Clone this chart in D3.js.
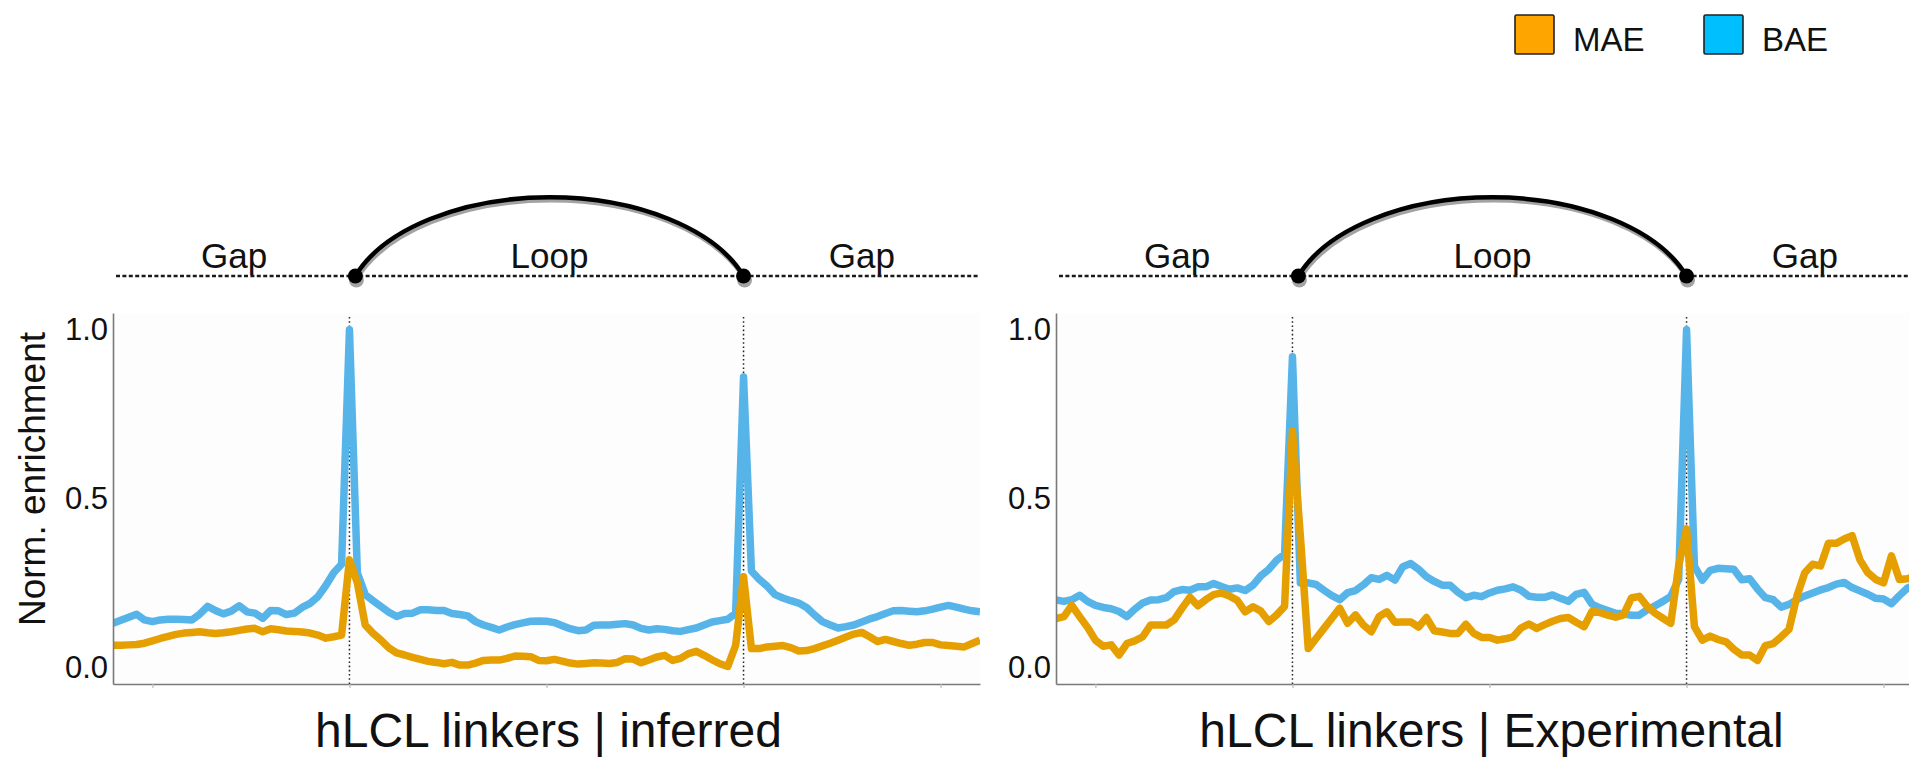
<!DOCTYPE html>
<html>
<head>
<meta charset="utf-8">
<script src="https://cdn.jsdelivr.net/npm/d3@7"></script>
<style>
  html, body { margin: 0; padding: 0; background: #fff; }
  svg { display: block; font-family: "Liberation Sans", Arial, Helvetica, sans-serif; }
</style>
</head>
<body>
<svg id="chart" width="1909" height="761"></svg>
<script>
// Bin positions along the linker, in loop units (0 and 1 are the two anchors).
const binCount = 111;
const positions = d3.range(binCount).map(i => -0.6 + i * 0.02);

const xTicks = [-0.5, 0, 0.5, 1, 1.5];
const anchors = [0, 1];
const yTicks = [0, 0.5, 1];

const seriesNames = ["MAE", "BAE"];
const panelTitles = ["hLCL linkers | inferred", "hLCL linkers | Experimental"];
const segmentLabels = ["Gap", "Loop", "Gap"];

// Normalised enrichment, inferred linkers
const inferredMAE = [
  0.065, 0.065, 0.066, 0.067, 0.071, 0.078, 0.085, 0.091, 0.097, 0.101,
  0.103, 0.105, 0.102, 0.100, 0.102, 0.105, 0.109, 0.113, 0.115, 0.105,
  0.114, 0.111, 0.107, 0.106, 0.104, 0.101, 0.095, 0.086, 0.090, 0.095,
  0.318, 0.250, 0.125, 0.100, 0.080, 0.057, 0.042, 0.036, 0.029, 0.023,
  0.017, 0.014, 0.010, 0.014, 0.006, 0.006, 0.012, 0.020, 0.021, 0.021,
  0.026, 0.033, 0.032, 0.031, 0.020, 0.019, 0.023, 0.018, 0.012, 0.009,
  0.011, 0.013, 0.012, 0.011, 0.014, 0.025, 0.024, 0.013, 0.021, 0.030,
  0.035, 0.020, 0.026, 0.040, 0.047, 0.035, 0.022, 0.010, 0.002, 0.065,
  0.268, 0.055, 0.055, 0.060, 0.062, 0.064, 0.058, 0.048, 0.049, 0.055,
  0.063, 0.071, 0.080, 0.089, 0.098, 0.103, 0.090, 0.076, 0.082, 0.076,
  0.070, 0.065, 0.068, 0.073, 0.073, 0.066, 0.064, 0.062, 0.060, 0.070,
  0.080
];
const inferredBAE = [
  0.130, 0.139, 0.148, 0.157, 0.140, 0.135, 0.140, 0.142, 0.142, 0.141,
  0.140, 0.157, 0.180, 0.168, 0.158, 0.166, 0.182, 0.164, 0.160, 0.145,
  0.168, 0.167, 0.156, 0.160, 0.177, 0.189, 0.209, 0.242, 0.280, 0.305,
  1.000, 0.280, 0.215, 0.197, 0.180, 0.163, 0.150, 0.159, 0.160, 0.170,
  0.170, 0.168, 0.168, 0.159, 0.156, 0.152, 0.135, 0.125, 0.118, 0.110,
  0.119, 0.126, 0.131, 0.136, 0.137, 0.136, 0.132, 0.123, 0.114, 0.108,
  0.110, 0.124, 0.125, 0.125, 0.127, 0.129, 0.125, 0.115, 0.110, 0.114,
  0.112, 0.108, 0.106, 0.111, 0.116, 0.125, 0.134, 0.138, 0.142, 0.160,
  0.860, 0.285, 0.260, 0.240, 0.215, 0.205, 0.197, 0.190, 0.177, 0.155,
  0.135, 0.125, 0.116, 0.120, 0.125, 0.134, 0.143, 0.150, 0.159, 0.167,
  0.168, 0.166, 0.164, 0.167, 0.172, 0.178, 0.183, 0.178, 0.172, 0.167,
  0.164
];

// Normalised enrichment, experimental linkers
const experimentalMAE = [
  0.144, 0.150, 0.183, 0.150, 0.118, 0.080, 0.062, 0.066, 0.036, 0.070,
  0.078, 0.090, 0.125, 0.125, 0.125, 0.140, 0.175, 0.207, 0.182, 0.200,
  0.215, 0.220, 0.211, 0.198, 0.164, 0.179, 0.166, 0.135, 0.155, 0.180,
  0.700, 0.390, 0.055, 0.085, 0.115, 0.145, 0.175, 0.130, 0.155, 0.125,
  0.105, 0.150, 0.164, 0.133, 0.134, 0.134, 0.119, 0.147, 0.108, 0.104,
  0.100, 0.100, 0.127, 0.100, 0.088, 0.088, 0.080, 0.084, 0.090, 0.116,
  0.128, 0.115, 0.126, 0.136, 0.144, 0.147, 0.133, 0.120, 0.165, 0.162,
  0.154, 0.148, 0.155, 0.205, 0.210, 0.180, 0.160, 0.145, 0.130, 0.300,
  0.410, 0.120, 0.080, 0.092, 0.082, 0.075, 0.053, 0.036, 0.036, 0.020,
  0.064, 0.070, 0.090, 0.112, 0.210, 0.280, 0.305, 0.300, 0.367, 0.367,
  0.380, 0.390, 0.318, 0.280, 0.260, 0.250, 0.330, 0.260, 0.262, 0.270,
  0.270
];
const experimentalBAE = [
  0.199, 0.195, 0.200, 0.213, 0.195, 0.183, 0.177, 0.173, 0.165, 0.150,
  0.172, 0.190, 0.199, 0.200, 0.206, 0.224, 0.230, 0.228, 0.238, 0.238,
  0.248, 0.239, 0.231, 0.235, 0.227, 0.243, 0.271, 0.290, 0.317, 0.335,
  0.920, 0.250, 0.250, 0.245, 0.228, 0.212, 0.200, 0.221, 0.227, 0.244,
  0.265, 0.260, 0.272, 0.258, 0.298, 0.307, 0.290, 0.268, 0.254, 0.243,
  0.243, 0.222, 0.206, 0.213, 0.209, 0.220, 0.228, 0.232, 0.238, 0.228,
  0.210, 0.207, 0.207, 0.214, 0.204, 0.195, 0.216, 0.222, 0.187, 0.176,
  0.168, 0.160, 0.158, 0.154, 0.154, 0.170, 0.182, 0.195, 0.210, 0.260,
  1.000, 0.300, 0.258, 0.287, 0.293, 0.292, 0.290, 0.259, 0.262, 0.232,
  0.206, 0.200, 0.178, 0.186, 0.200, 0.211, 0.220, 0.229, 0.236, 0.246,
  0.251, 0.236, 0.226, 0.216, 0.204, 0.202, 0.188, 0.212, 0.234, 0.245,
  0.250
];

const lineColors = { MAE: "#E69F00", BAE: "#56B4E9" };
const legendColors = { MAE: "#FFA500", BAE: "#00BFFF" };

const panels = [
  { title: panelTitles[0], left: 113, MAE: inferredMAE, BAE: inferredBAE, yTitle: true },
  { title: panelTitles[1], left: 1056, MAE: experimentalMAE, BAE: experimentalBAE, yTitle: false }
];

const panelWidth = 867;
const panelTop = 313, panelBottom = 684;
const diagramY = 276;          // baseline of the gap/loop schematic
const arcEnds = [0.015, 1.0];  // loop anchors drawn in the schematic
const textColor = "#111";
const axisColor = "#7a7a7a";

const svg = d3.select("#chart");

const y = d3.scaleLinear().domain([-0.05, 1.05]).range([panelBottom, panelTop]);

panels.forEach((p, pi) => {
  const x = d3.scaleLinear().domain([-0.6, 1.6]).range([p.left, p.left + panelWidth]);
  const g = svg.append("g");

  // panel background
  g.append("rect")
    .attr("x", p.left).attr("y", panelTop)
    .attr("width", panelWidth).attr("height", panelBottom - panelTop)
    .attr("fill", "#fdfdfd");

  const clipId = "clip" + pi;
  svg.append("clipPath").attr("id", clipId)
    .append("rect")
    .attr("x", p.left).attr("y", panelTop - 4)
    .attr("width", panelWidth).attr("height", panelBottom - panelTop + 4);

  // anchor guides
  g.selectAll("line.anchor").data(anchors).enter().append("line")
    .attr("class", "anchor")
    .attr("x1", d => x(d)).attr("x2", d => x(d))
    .attr("y1", panelTop + 4).attr("y2", panelBottom)
    .attr("stroke", "#222").attr("stroke-width", 1.5)
    .attr("stroke-dasharray", "1.6,2.6");

  // profiles (BAE underneath, MAE on top)
  const line = d3.line()
    .x((d, i) => x(positions[i]))
    .y(d => y(d));
  const lines = g.append("g").attr("clip-path", `url(#${clipId})`);
  ["BAE", "MAE"].forEach(name => {
    lines.append("path")
      .datum(p[name])
      .attr("d", line)
      .attr("fill", "none")
      .attr("stroke", lineColors[name])
      .attr("stroke-width", 7.5)
      .attr("stroke-linejoin", "round")
      .attr("stroke-linecap", "butt");
  });

  // axes
  const yAxis = d3.axisLeft(y).tickValues(yTicks).tickFormat(d3.format(".1f"))
    .tickSize(0).tickSizeOuter(0).tickPadding(5);
  const ya = g.append("g").attr("transform", `translate(${p.left},0)`).call(yAxis);
  ya.select(".domain").attr("stroke", axisColor).attr("stroke-width", 1.6);
  ya.selectAll("text")
    .attr("fill", textColor)
    .style("font-size", "31px")
    .style("font-family", '"Liberation Sans", Arial, sans-serif');

  const xAxis = d3.axisBottom(x).tickValues(xTicks).tickFormat("")
    .tickSize(4).tickSizeOuter(0);
  const xa = g.append("g").attr("transform", `translate(0,${panelBottom})`).call(xAxis);
  xa.select(".domain").attr("stroke", axisColor).attr("stroke-width", 1.6);
  xa.selectAll(".tick line").attr("stroke", "#bbb").attr("stroke-width", 1.2);

  // panel title
  g.append("text")
    .attr("x", p.left + panelWidth / 2 + 2).attr("y", 747)
    .attr("text-anchor", "middle")
    .attr("fill", textColor)
    .style("font-size", "48px")
    .text(p.title);

  if (p.yTitle) {
    g.append("text")
      .attr("transform", `translate(45,479) rotate(-90)`)
      .attr("text-anchor", "middle")
      .attr("fill", textColor)
      .style("font-size", "37px")
      .text("Norm. enrichment");
  }

  // gap / loop schematic above the panel
  const sg = g.append("g");
  sg.append("line")
    .attr("x1", x(-0.6) + 3).attr("x2", x(1.6) - 2)
    .attr("y1", diagramY).attr("y2", diagramY)
    .attr("stroke", "#1a1a1a").attr("stroke-width", 2.4)
    .attr("stroke-dasharray", "4,2.4");

  const ax0 = x(arcEnds[0]), ax1 = x(arcEnds[1]);
  const arcPath = (dx, dy) =>
    `M${ax0 + dx},${diagramY + dy} A205,116 0 0 1 ${ax1 + dx},${diagramY + dy}`;
  sg.append("path").attr("d", arcPath(1.2, 3))
    .attr("fill", "none").attr("stroke", "#a3a3a3").attr("stroke-width", 4.5);
  sg.append("path").attr("d", arcPath(0, 0))
    .attr("fill", "none").attr("stroke", "#000").attr("stroke-width", 4.5);

  [ax0, ax1].forEach(cx => {
    sg.append("circle").attr("cx", cx + 1).attr("cy", diagramY + 4).attr("r", 7.5)
      .attr("fill", "#a3a3a3");
    sg.append("circle").attr("cx", cx).attr("cy", diagramY).attr("r", 7.5)
      .attr("fill", "#000");
  });

  const segCentres = [
    (x(-0.6) + ax0) / 2,
    (ax0 + ax1) / 2,
    (ax1 + x(1.6)) / 2
  ];
  sg.selectAll("text.seg").data(segmentLabels).enter().append("text")
    .attr("class", "seg")
    .attr("x", (d, i) => segCentres[i])
    .attr("y", 268)
    .attr("text-anchor", "middle")
    .attr("fill", textColor)
    .style("font-size", "35px")
    .text(d => d);
});

// legend
const legendX = [1515, 1704];
const lg = svg.append("g");
seriesNames.forEach((name, i) => {
  lg.append("rect")
    .attr("x", legendX[i]).attr("y", 15)
    .attr("width", 39).attr("height", 39)
    .attr("rx", 1.5)
    .attr("fill", legendColors[name])
    .attr("stroke", "#222").attr("stroke-width", 1.6);
  lg.append("text")
    .attr("x", legendX[i] + 58).attr("y", 51)
    .attr("fill", textColor)
    .style("font-size", "33px")
    .text(name);
});
</script>
</body>
</html>
